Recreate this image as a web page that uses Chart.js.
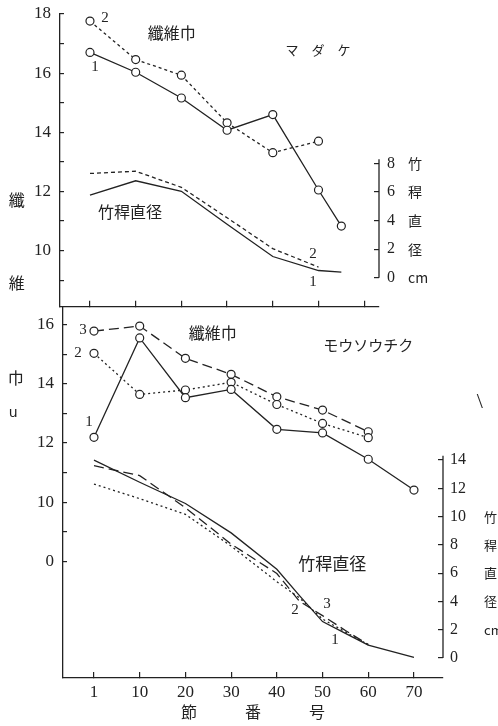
<!DOCTYPE html>
<html>
<head>
<meta charset="utf-8">
<script src="https://cdn.jsdelivr.net/npm/chart.js@4.4.0/dist/chart.umd.min.js"></script>
<style>
  html, body { margin: 0; padding: 0; background: #fff; }
  body { width: 498px; height: 726px; position: relative; overflow: hidden; }
  canvas { position: absolute; left: 0; }
  #top { top: 0; }
  #bottom { top: 297px; }
</style>
</head>
<body>
<canvas id="top" width="498" height="312"></canvas>
<canvas id="bottom" width="498" height="429"></canvas>
<script>
// node numbers on the shared x axis (evenly spaced, "1" sits where 0 would)
const xTickNodes = [1, 10, 20, 30, 40, 50, 60, 70]
const xTickLabels = ['1', '10', '20', '30', '40', '50', '60', '70']

// マダケ - fibre width (left axis) and culm diameter in cm (right axis)
const madakeNodes = [1, 10, 20, 30, 40, 50, 55]
const madakeWidth1 = [16.7, 16.03, 15.16, 14.07, 14.6, 12.05, 10.83]
const madakeWidth2 = [17.76, 16.46, 15.93, 14.32, 13.31, 13.7, null]
const madakeDiam1 = [5.78, 6.79, 6.05, 3.75, 1.49, 0.51, 0.4]
const madakeDiam2 = [7.3, 7.46, 6.33, 4.2, 2.04, 0.75, null]

// モウソウチク
const mosoNodes = [1, 10, 20, 30, 40, 50, 60, 70]
const mosoWidth1 = [12.19, 15.55, 13.53, 13.81, 12.46, 12.34, 11.45, 10.41]
const mosoWidth2 = [15.03, 13.64, 13.79, 14.05, 13.3, 12.66, 12.18, null]
const mosoWidth3 = [15.78, 15.95, 14.86, 14.32, 13.56, 13.11, 12.38, null]
const mosoDiamNodes = [1, 10, 20, 30, 40, 45, 50, 55, 60, 70]
const mosoDiam1 = [14.0, 12.43, 10.93, 8.85, 6.28, 4.4, 2.58, 1.75, 0.92, 0.05]
const mosoDiam2 = [12.3, 11.27, 10.16, 7.92, 5.4, 4.24, 2.76, 1.84, 0.95, null]
const mosoDiam3 = [13.6, 12.9, 10.63, 8.06, 5.98, 4.0, 3.0, 1.95, 0.95, null]

// tick labels
const madakeWidthTicks = [9, 10, 11, 12, 13, 14, 15, 16, 17, 18]
const madakeDiamTicks = [0, 2, 4, 6, 8]
const madakeDiamWords = { 8: '竹', 6: '稈', 4: '直', 2: '径', 0: 'cm' }
const mosoWidthTicks = [8, 9, 10, 11, 12, 13, 14, 15, 16]
const mosoWidthLabels = { 16: '16', 14: '14', 12: '12', 10: '10', 8: '0' }
const mosoDiamTicks = [0, 2, 4, 6, 8, 10, 12, 14]
const mosoDiamWords = { 10: '竹', 8: '稈', 6: '直', 4: '径', 2: 'cm' }

const ink = '#222'
const serif = 'Liberation Serif'
const cjk = "'Noto Sans CJK JP', sans-serif"

function nodePos(n) {
  for (let i = 0; i < xTickNodes.length - 1; i++) {
    const a = xTickNodes[i]
    const b = xTickNodes[i + 1]
    if (n <= b) return i + (n - a) / (b - a)
  }
  return xTickNodes.length - 1
}

function pts(nodes, values) {
  return nodes
    .map((n, i) => ({ x: nodePos(n), y: values[i] }))
    .filter((p) => p.y !== null)
}

function widthSet(data, dash) {
  return {
    data,
    yAxisID: 'y',
    borderColor: ink,
    borderWidth: 1.3,
    borderDash: dash,
    pointRadius: 4,
    pointBackgroundColor: '#fff',
    pointBorderColor: ink,
    pointBorderWidth: 1.2,
    tension: 0,
  }
}

function diamSet(data, dash) {
  return {
    data,
    yAxisID: 'yd',
    borderColor: ink,
    borderWidth: 1.3,
    borderDash: dash,
    pointRadius: 0,
    tension: 0,
  }
}

function fixedTicks(values) {
  return (s) => {
    s.ticks = values.map((v) => ({ value: v }))
  }
}

// fixed axis size, and no label overhang pushing the plot area around
function sized(w, h) {
  return (s) => {
    if (w !== null) s.width = w
    if (h !== null) s.height = h
    s.paddingTop = 0
    s.paddingBottom = 0
    s.paddingLeft = 0
    s.paddingRight = 0
  }
}

// text written inside the figure, placed by axis values
function notesPlugin(items) {
  return {
    id: 'notes',
    afterDraw(chart) {
      const { ctx, scales } = chart
      ctx.save()
      ctx.fillStyle = ink
      ctx.textAlign = 'center'
      ctx.textBaseline = 'middle'
      for (const n of items) {
        ctx.font = n.font
        ctx.fillText(n.text, scales.x.getPixelForValue(n.x), scales.y.getPixelForValue(n.y))
      }
      ctx.restore()
    },
  }
}

// the diameter axis line only covers part of the height
function axisLinePlugin(id, from, to) {
  return {
    id: 'axisLine',
    afterDraw(chart) {
      const s = chart.scales[id]
      const ctx = chart.ctx
      ctx.save()
      ctx.strokeStyle = ink
      ctx.lineWidth = 1.3
      ctx.beginPath()
      ctx.moveTo(s.left, s.getPixelForValue(from))
      ctx.lineTo(s.left, s.getPixelForValue(to))
      ctx.stroke()
      ctx.restore()
    },
  }
}

const baseOptions = {
  responsive: false,
  devicePixelRatio: 1,
  animation: false,
  events: [],
  plugins: { legend: { display: false }, tooltip: { enabled: false } },
}

const f = (size, fam) => size + 'px ' + fam

new Chart(document.getElementById('top'), {
  type: 'line',
  data: {
    datasets: [
      widthSet(pts(madakeNodes, madakeWidth1), []),
      widthSet(pts(madakeNodes, madakeWidth2), [3, 3]),
      diamSet(pts(madakeNodes, madakeDiam1), []),
      diamSet(pts(madakeNodes, madakeDiam2), [4, 3]),
    ],
  },
  options: {
    ...baseOptions,
    layout: { padding: { top: 14, left: 0, right: 0, bottom: 0 } },
    scales: {
      x: {
        type: 'linear',
        min: -0.656,
        max: 6.324,
        afterBuildTicks: fixedTicks([0, 1, 2, 3, 4, 5, 6]),
        afterFit: sized(null, 5),
        ticks: { display: false },
        grid: { drawOnChartArea: false, tickLength: -6, color: ink, lineWidth: 1.2 },
        border: { color: ink, width: 1.3 },
      },
      y: {
        type: 'linear',
        position: 'left',
        min: 8.1,
        max: 18,
        afterBuildTicks: fixedTicks(madakeWidthTicks),
        afterFit: sized(60, null),
        ticks: {
          callback: (v) => (v % 2 === 0 ? String(v) : ''),
          font: { family: serif, size: 17 },
          color: ink,
          padding: 13,
        },
        grid: { drawOnChartArea: false, tickLength: -4, color: ink, lineWidth: 1.2 },
        border: { color: ink, width: 1.3 },
      },
      yd: {
        type: 'linear',
        position: 'right',
        min: -2.03,
        max: 18.46,
        afterBuildTicks: fixedTicks(madakeDiamTicks),
        afterFit: sized(27, null),
        ticks: { font: { family: serif, size: 16 }, color: ink, padding: 13 },
        grid: { drawOnChartArea: false, tickLength: -5, color: ink, lineWidth: 1.2 },
        border: { display: false },
      },
      yc: {
        type: 'linear',
        position: 'right',
        min: -2.03,
        max: 18.46,
        afterBuildTicks: fixedTicks(madakeDiamTicks),
        afterFit: sized(92, null),
        ticks: {
          callback: (v) => madakeDiamWords[v] || '',
          font: { family: cjk, size: 14 },
          color: ink,
          padding: 2,
        },
        grid: { display: false, drawTicks: false },
        border: { display: false },
      },
    },
  },
  plugins: [
    axisLinePlugin('yd', 0, 8.3),
    notesPlugin([
      { text: '2', x: 0.33, y: 17.86, font: f(15, serif) },
      { text: '1', x: 0.11, y: 16.21, font: f(15, serif) },
      { text: '纖維巾', x: 1.79, y: 17.36, font: f(16, cjk) },
      { text: 'マ　ダ　ケ', x: 4.99, y: 16.78, font: f(13, cjk) },
      { text: '竹稈直径', x: 0.875, y: 11.31, font: f(16, cjk) },
      { text: '2', x: 4.88, y: 9.89, font: f(15, serif) },
      { text: '1', x: 4.88, y: 8.95, font: f(15, serif) },
      { text: '纖', x: -1.6, y: 11.72, font: f(16, cjk) },
      { text: '維', x: -1.6, y: 8.91, font: f(16, cjk) },
    ]),
  ],
})

new Chart(document.getElementById('bottom'), {
  type: 'line',
  data: {
    datasets: [
      widthSet(pts(mosoNodes, mosoWidth1), []),
      widthSet(pts(mosoNodes, mosoWidth2), [2, 3]),
      widthSet(pts(mosoNodes, mosoWidth3), [10, 5]),
      diamSet(pts(mosoDiamNodes, mosoDiam1), []),
      diamSet(pts(mosoDiamNodes, mosoDiam2), [2, 3]),
      diamSet(pts(mosoDiamNodes, mosoDiam3), [10, 5]),
    ],
  },
  options: {
    ...baseOptions,
    layout: { padding: { top: 11, left: 0, right: 0, bottom: 4 } },
    scales: {
      x: {
        type: 'linear',
        min: -0.678,
        max: 7.635,
        afterBuildTicks: fixedTicks([0, 1, 2, 3, 4, 5, 6, 7]),
        afterFit: sized(null, 44),
        ticks: {
          callback: (v) => xTickLabels[v],
          font: { family: serif, size: 17 },
          color: ink,
          padding: 10,
          maxRotation: 0,
        },
        grid: { drawOnChartArea: false, tickLength: -6, color: ink, lineWidth: 1.2 },
        border: { color: ink, width: 1.3 },
        title: {
          display: true,
          text: '節　　　番　　　号',
          font: { family: cjk, size: 16 },
          color: ink,
          padding: 0,
        },
      },
      y: {
        type: 'linear',
        position: 'left',
        min: 4.06,
        max: 16.56,
        afterBuildTicks: fixedTicks(mosoWidthTicks),
        afterFit: sized(63, null),
        ticks: {
          callback: (v) => mosoWidthLabels[v] || '',
          font: { family: serif, size: 17 },
          color: ink,
          padding: 13,
        },
        grid: { drawOnChartArea: false, tickLength: -4, color: ink, lineWidth: 1.2 },
        border: { color: ink, width: 1.3 },
      },
      yd: {
        type: 'linear',
        position: 'right',
        min: -1.41,
        max: 24.75,
        afterBuildTicks: fixedTicks(mosoDiamTicks),
        afterFit: sized(40, null),
        ticks: { font: { family: serif, size: 16 }, color: ink, padding: 12 },
        grid: { drawOnChartArea: false, tickLength: -5, color: ink, lineWidth: 1.2 },
        border: { display: false },
      },
      yc: {
        type: 'linear',
        position: 'right',
        min: -1.41,
        max: 24.75,
        afterBuildTicks: fixedTicks(mosoDiamTicks),
        afterFit: sized(15, null),
        ticks: {
          callback: (v) => mosoDiamWords[v] || '',
          font: { family: cjk, size: 13 },
          color: ink,
          padding: 1,
        },
        grid: { display: false, drawTicks: false },
        border: { display: false },
      },
    },
  },
  plugins: [
    axisLinePlugin('yd', 0, 14.3),
    notesPlugin([
      { text: '3', x: -0.24, y: 15.81, font: f(15, serif) },
      { text: '2', x: -0.35, y: 15.04, font: f(15, serif) },
      { text: '1', x: -0.11, y: 12.72, font: f(15, serif) },
      { text: '纖維巾', x: 2.6, y: 15.71, font: f(16, cjk) },
      { text: 'モウソウチク', x: 6.0, y: 15.31, font: f(15, cjk) },
      { text: '竹稈直径', x: 5.21, y: 7.94, font: f(17, cjk) },
      { text: '2', x: 4.4, y: 6.35, font: f(15, serif) },
      { text: '3', x: 5.1, y: 6.56, font: f(15, serif) },
      { text: '1', x: 5.27, y: 5.34, font: f(15, serif) },
      { text: '巾', x: -1.71, y: 14.19, font: f(16, cjk) },
      { text: 'u', x: -1.77, y: 13.01, font: f(14, 'DejaVu Sans') },
      { text: '\\', x: 8.44, y: 13.38, font: f(22, serif) },
    ]),
  ],
})
</script>
</body>
</html>
